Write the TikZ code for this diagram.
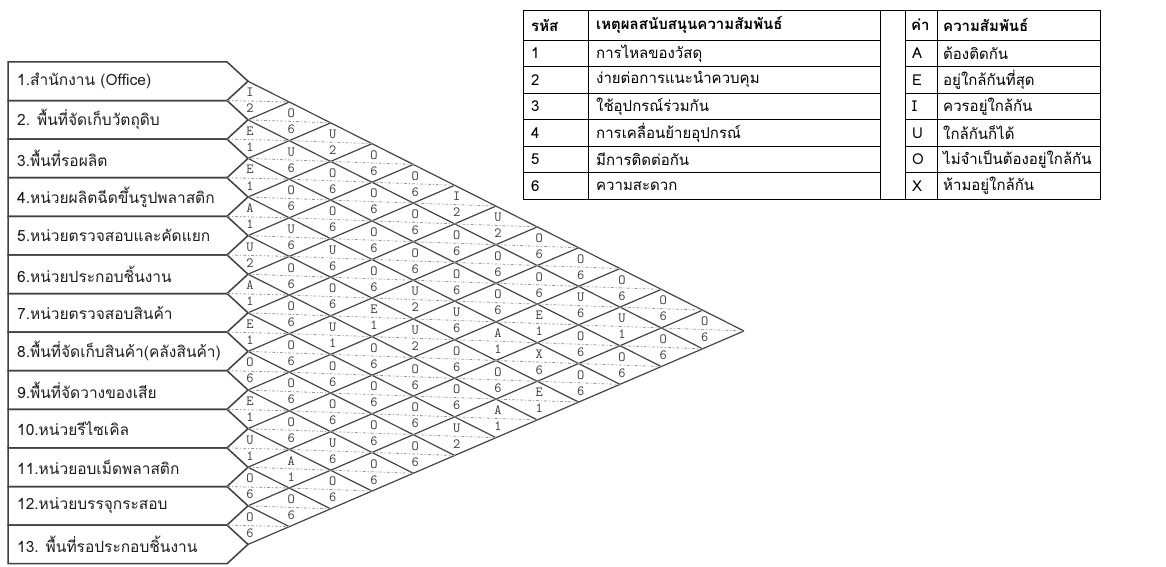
\documentclass[tikz,border=0pt]{standalone}
\usepackage{fontspec}
\newfontfamily\thai[Script=Thai]{Loma}
\definecolor{boxc}{HTML}{404040}
\definecolor{gridc}{HTML}{454545}
\definecolor{dashc}{HTML}{9A9A9A}
\definecolor{ltrc}{HTML}{3C3C3C}
\definecolor{txtc}{HTML}{1E1E1E}
\begin{document}
\begin{tikzpicture}[x=1pt,y=-1pt,
  box/.style={draw=boxc, line width=1.5pt, line join=miter},
  lbl/.style={anchor=west, font=\thai\fontsize{15.5}{17}\selectfont, text=txtc, inner sep=0pt},
  gridln/.style={draw=gridc, line width=1.2pt},
  midln/.style={draw=dashc, line width=0.8pt, dash pattern=on 3pt off 2pt on 1pt off 2pt},
  ltr/.style={font=\ttfamily\fontsize{14}{14}\selectfont, text=ltrc, inner sep=0pt},
  tbl/.style={draw=black, line width=0.8pt},
  tt/.style={anchor=west, font=\thai\fontsize{15}{17}\selectfont, inner sep=0pt},
  th/.style={anchor=west, font=\thai\bfseries\fontsize{15}{17}\selectfont, inner sep=0pt},
]
\fill[white] (0,0) rectangle (1166,566);
\useasboundingbox (0,0) rectangle (1166,566);
\pgfmathsetmacro{\T}{61.9}
\pgfmathsetmacro{\H}{38.6}
\pgfmathsetmacro{\XO}{248}
\pgfmathsetmacro{\W}{41.33}
\pgfmathsetmacro{\SD}{0.5036}
\pgfmathsetmacro{\DD}{\W*\SD}
% department boxes
\foreach \i/\txt in {1/{1.สำนักงาน (Office)},2/{2. พื้นที่จัดเก็บวัตถุดิบ},3/{3.พื้นที่รอผลิต},4/{4.หน่วยผลิตฉีดขึ้นรูปพลาสติก},5/{5.หน่วยตรวจสอบและคัดแยก},6/{6.หน่วยประกอบชิ้นงาน},7/{7.หน่วยตรวจสอบสินค้า},8/{8.พื้นที่จัดเก็บสินค้า(คลังสินค้า)},9/{9.พื้นที่จัดวางของเสีย},10/{10.หน่วยรีไซเคิล},11/{11.หน่วยอบเม็ดพลาสติก},12/{12.หน่วยบรรจุกระสอบ},13/{13. พื้นที่รอประกอบชิ้นงาน}}{
  \pgfmathsetmacro{\yt}{\T+(\i-1)*\H}
  \pgfmathsetmacro{\yb}{\yt+\H}
  \pgfmathsetmacro{\yc}{\yt+\H/2}
  \draw[box] (8,\yt) -- (227,\yt) -- (\XO,\yc) -- (227,\yb) -- (8,\yb) -- cycle;
  \node[lbl] (d\i) at (17,\yc) {\txt};
}
% lattice
\foreach \i in {1,...,13}{
  \pgfmathsetmacro{\yc}{\T+(\i-0.5)*\H}
  \pgfmathsetmacro{\n}{13-\i}
  \pgfmathsetmacro{\m}{\i-1}
  \coordinate (tip\i) at (\XO,\yc);
  \draw[gridln] (tip\i) -- ++(\n*\W,\n*\DD);
  \draw[gridln] (tip\i) -- ++(\m*\W,-\m*\H+\m*\DD);
}
% diamonds
\foreach \i/\j/\L/\N in {
 1/2/I/2,2/3/E/1,3/4/E/1,4/5/A/1,5/6/U/2,6/7/A/1,7/8/E/1,8/9/O/6,9/10/E/1,10/11/U/1,11/12/O/6,12/13/O/6,
 1/3/O/6,2/4/U/6,3/5/O/6,4/6/U/6,5/7/O/6,6/8/O/6,7/9/O/6,8/10/O/6,9/11/O/6,10/12/A/1,11/13/O/6,
 1/4/U/2,2/5/O/6,3/6/O/6,4/7/U/6,5/8/O/6,6/9/U/1,7/10/O/6,8/11/O/6,9/12/U/6,10/13/O/6,
 1/5/O/6,2/6/O/6,3/7/O/6,4/8/O/6,5/9/E/1,6/10/O/6,7/11/O/6,8/12/O/6,9/13/O/6,
 1/6/O/6,2/7/O/6,3/8/O/6,4/9/U/2,5/10/U/2,6/11/O/6,7/12/O/6,8/13/O/6,
 1/7/I/2,2/8/O/6,3/9/O/6,4/10/U/6,5/11/O/6,6/12/O/6,7/13/U/2,
 1/8/U/2,2/9/O/6,3/10/O/6,4/11/A/1,5/12/O/6,6/13/A/1,
 1/9/O/6,2/10/O/6,3/11/E/1,4/12/X/6,5/13/E/1,
 1/10/O/6,2/11/U/6,3/12/O/6,4/13/O/6,
 1/11/O/6,2/12/U/1,3/13/O/6,
 1/12/O/6,2/13/O/6,
 1/13/O/6}{
  \pgfmathtruncatemacro{\k}{\j-\i}
  \pgfmathsetmacro{\cx}{\XO+(\k-1)*\W+2}
  \pgfmathsetmacro{\cy}{\T+\i*\H+(\k-1)*\DD}
  \pgfmathsetmacro{\rx}{\XO+\k*\W}
  \pgfmathsetmacro{\ry}{\T+(\i-0.5)*\H+\k*\DD}
  \pgfmathsetmacro{\lx}{\k==1 ? 227 : \XO+(\k-2)*\W}
  \pgfmathsetmacro{\ly}{\k==1 ? \T+\i*\H : \T+(\i+0.5)*\H+(\k-2)*\DD}
  \coordinate (l\i-\j) at (\lx,\ly);
  \coordinate (r\i-\j) at (\rx,\ry);
  \draw[midln] (l\i-\j) -- (r\i-\j);
  \node[ltr] (L\i-\j) at (\cx,\cy-8) {\L};
  \node[ltr] (N\i-\j) at (\cx,\cy+8) {\N};
}
% legend tables
\draw[tbl] (523,10) rectangle (880,199);
\draw[tbl] (905,10) rectangle (1100,199);
\draw[tbl] (880,10) -- (905,10);
\draw[tbl] (880,199) -- (905,199);
\draw[tbl] (588,10) -- (588,199);
\draw[tbl] (937,10) -- (937,199);
\foreach \y in {40,66.5,93,119.5,146,172.5}{
  \draw[tbl] (523,\y) -- (880,\y);
  \draw[tbl] (905,\y) -- (1100,\y);
}
\node[th] (h1) at (531,25) {รหัส};
\node[th] (h2) at (596,25) {เหตุผลสนับสนุนความสัมพันธ์};
\node[th] (h3) at (911,25) {ค่า};
\node[th] (h4) at (943,25) {ความสัมพันธ์};
\foreach \r/\c/\d/\v/\w in {1/1/การไหลของวัสดุ/A/ต้องติดกัน,2/2/ง่ายต่อการแนะนำควบคุม/E/อยู่ใกล้กันที่สุด,3/3/ใช้อุปกรณ์ร่วมกัน/I/ควรอยู่ใกล้กัน,4/4/การเคลื่อนย้ายอุปกรณ์/U/ใกล้กันก็ได้,5/5/มีการติดต่อกัน/O/ไม่จำเป็นต้องอยู่ใกล้กัน,6/6/ความสะดวก/X/ห้ามอยู่ใกล้กัน}{
  \pgfmathsetmacro{\yy}{40+(\r-0.5)*26.5}
  \node[tt] (c\r) at (531,\yy) {\c};
  \node[tt] (e\r) at (596,\yy) {\d};
  \node[tt] (v\r) at (912,\yy) {\v};
  \node[tt] (m\r) at (943,\yy) {\w};
}
\end{tikzpicture}
\end{document}
